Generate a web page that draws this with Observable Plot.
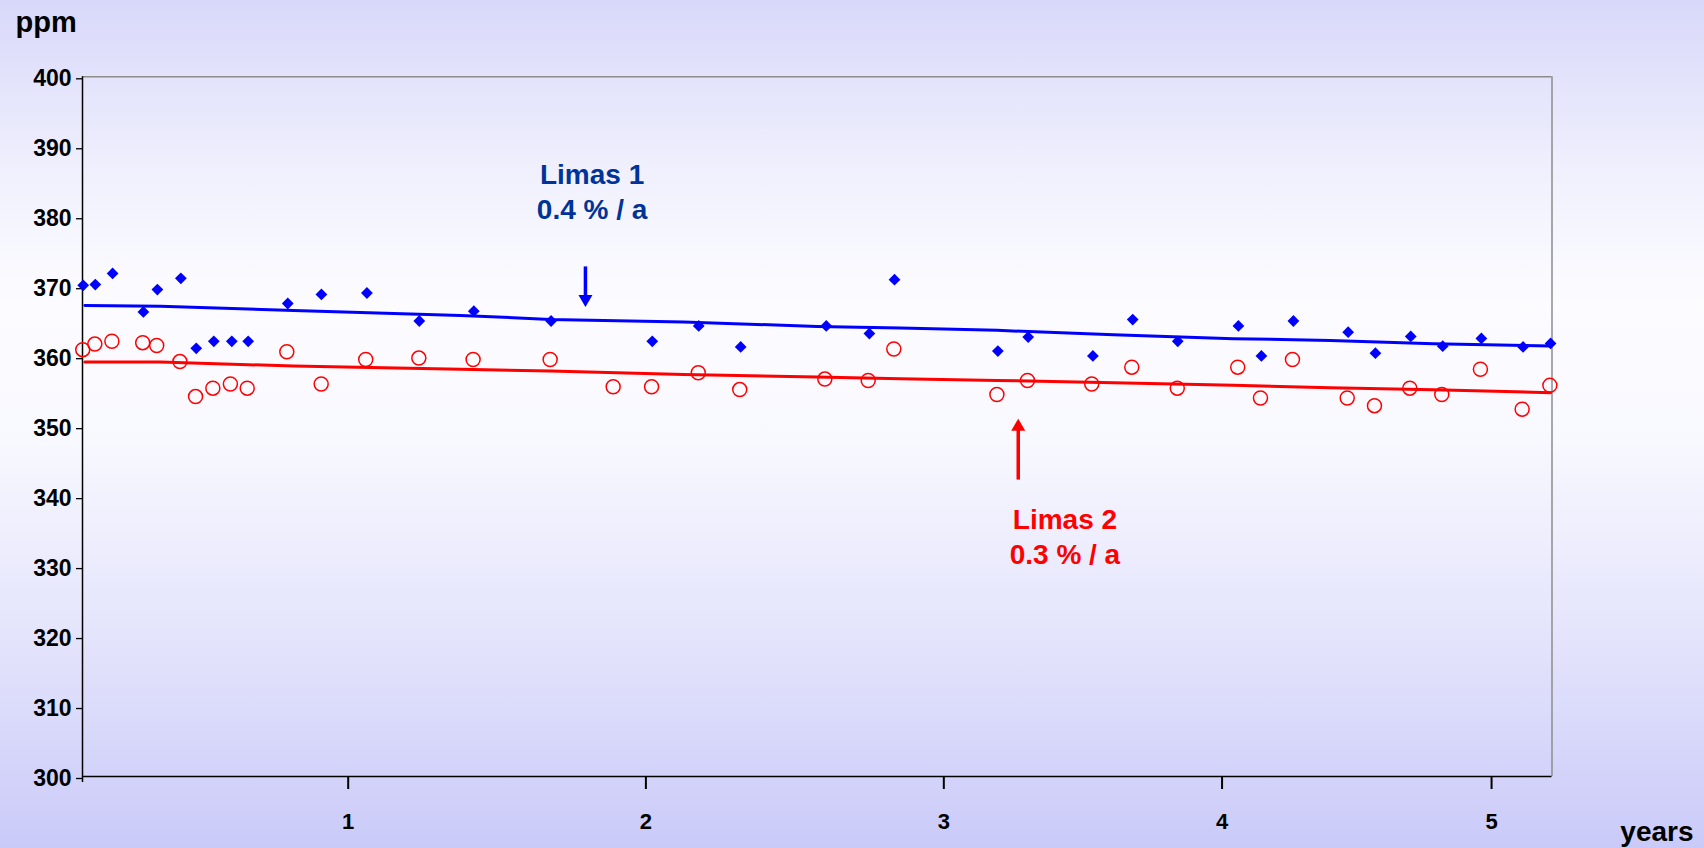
<!DOCTYPE html>
<html>
<head>
<meta charset="utf-8">
<script src="https://cdn.jsdelivr.net/npm/d3@7"></script>
<script src="https://cdn.jsdelivr.net/npm/@observablehq/plot@0.6"></script>
<style>
html, body { margin: 0; padding: 0; }
body {
  width: 1704px; height: 848px; overflow: hidden;
  background: linear-gradient(to bottom, #d8d8fa 0%, #f2f2fe 22%, #fcfcff 36%, #f8f8ff 52%, #e3e3fc 76%, #cacaf9 100%);
  font-family: "Liberation Sans", Arial, Helvetica, sans-serif;
}
#chart svg { display: block; }
</style>
</head>
<body>
<div id="chart"></div>
<script>
// ---- data (x in months since start, y in ppm) ----
const limas1Month = [0.03, 0.54, 1.27, 2.57, 3.16, 4.15, 4.80, 5.54, 6.30, 6.99, 8.66, 10.08, 12.0, 14.21,
  16.51, 19.77, 24.04, 26.0, 27.77, 31.38, 33.2, 34.26, 38.62, 39.9, 42.63, 44.31, 46.21, 48.77, 49.74,
  51.09, 53.40, 54.55, 56.04, 57.39, 59.02, 60.78, 61.94];
const limas1Ppm = [370.2, 370.3, 371.9, 366.4, 369.6, 371.2, 361.2, 362.2, 362.2, 362.2, 367.6, 368.9, 369.1, 365.1,
  366.5, 365.1, 362.2, 364.4, 361.4, 364.4, 363.3, 371.0, 360.8, 362.8, 360.1, 365.3, 362.2, 364.4, 360.1,
  365.1, 363.5, 360.5, 362.9, 361.5, 362.6, 361.4, 361.9];

const limas2Month = [0.01, 0.52, 1.24, 2.54, 3.13, 4.11, 4.77, 5.50, 6.24, 6.95, 8.62, 10.07, 11.95, 14.19,
  16.48, 19.73, 22.39, 24.01, 25.98, 27.73, 31.32, 33.15, 34.23, 38.58, 39.87, 42.58, 44.27, 46.19, 48.74,
  49.70, 51.05, 53.36, 54.51, 56.0, 57.35, 58.98, 60.74, 61.91];
const limas2Ppm = [361.0, 361.8, 362.2, 362.0, 361.6, 359.3, 354.3, 355.5, 356.1, 355.5, 360.7, 356.1, 359.6, 359.8,
  359.6, 359.6, 355.7, 355.7, 357.7, 355.3, 356.8, 356.6, 361.1, 354.6, 356.6, 356.1, 358.5, 355.5, 358.5,
  354.1, 359.6, 354.1, 353.0, 355.5, 354.6, 358.2, 352.5, 355.9];

const trendMonth = [0.1, 3.29, 8.91, 15.95, 19.74, 25.36, 31.0, 34.51, 38.59, 43.5, 48.56, 52.65, 57.0, 61.94];
const trend1Ppm = [367.33, 367.19, 366.61, 365.9, 365.33, 364.94, 364.33, 364.09, 363.76, 363.14, 362.57, 362.33, 361.86, 361.51];
const trend2Ppm = [359.23, 359.23, 358.66, 358.19, 357.94, 357.47, 357.09, 356.86, 356.61, 356.29, 355.9, 355.57, 355.29, 354.86];

const yTicks = [300, 310, 320, 330, 340, 350, 360, 370, 380, 390, 400];
const yearTickMonths = [11.21, 23.77, 36.34, 48.08, 59.45];
const yearTickLabels = ["1", "2", "3", "4", "5"];

const series1Label = ["Limas 1", "0.4 % / a"];
const series2Label = ["Limas 2", "0.3 % / a"];

// ---- tables built from the arrays ----
const pts1 = limas1Month.map((m, i) => ({month: m, ppm: limas1Ppm[i]}));
const pts2 = limas2Month.map((m, i) => ({month: m, ppm: limas2Ppm[i]}));
const trend1 = trendMonth.map((m, i) => ({month: m, ppm: trend1Ppm[i]}));
const trend2 = trendMonth.map((m, i) => ({month: m, ppm: trend2Ppm[i]}));

const BLUE = "#0000ff", RED = "#ff0000", NAVY = "#003399";
const FONT = "'Liberation Sans', Arial, Helvetica, sans-serif";

// downward-pointing filled triangle
const triangleDown = {
  draw(ctx, size) {
    const s = Math.sqrt(size) * 0.6824, t = s / 2, u = s * Math.sqrt(3) / 2;
    ctx.moveTo(0, s); ctx.lineTo(u, -t); ctx.lineTo(-u, -t); ctx.closePath();
  }
};

const one = [0];

const chart = Plot.plot({
  width: 1704,
  height: 848,
  marginLeft: 82,
  marginRight: 152.5,
  marginTop: 76.3,
  marginBottom: 72,
  style: {background: "transparent", fontFamily: FONT, overflow: "visible", color: "#000"},
  x: {domain: [0, 62]},
  y: {domain: [300, 400]},
  marks: [
    // frame
    Plot.ruleY([400], {stroke: "#8c8c8c", strokeWidth: 1.5}),
    Plot.ruleX([62], {stroke: "#8c8c8c", strokeWidth: 1.5}),
    Plot.ruleX([0], {stroke: "#000", strokeWidth: 1.5}),
    Plot.ruleY([300], {stroke: "#000", strokeWidth: 1.5}),
    // axes
    Plot.axisY(yTicks, {
      tickSize: 6, tickPadding: 5, fontSize: 23, fontWeight: "bold", dy: 2,
      stroke: "#000", strokeWidth: 1.3, fill: "#000", label: null, tickFormat: d => String(d)
    }),
    Plot.axisX(yearTickMonths, {
      tickSize: 13, tickPadding: 24, fontSize: 22, fontWeight: "bold",
      stroke: "#000", strokeWidth: 2, fill: "#000", label: null,
      tickFormat: (d, i) => yearTickLabels[yearTickMonths.indexOf(d)]
    }),
    Plot.axisX([0], {tickSize: 6, stroke: "#000", strokeWidth: 1.5, tickFormat: () => "", label: null}),
    // axis titles
    Plot.text(["ppm"], {frameAnchor: "top-left", textAnchor: "start", lineAnchor: "middle",
      dx: -67, dy: -54, fontSize: 29, fontWeight: "bold", fill: "#000"}),
    Plot.text(["years"], {frameAnchor: "bottom-right", textAnchor: "end", lineAnchor: "middle",
      dx: 141.5, dy: 56, fontSize: 28, fontWeight: "bold", fill: "#000"}),
    // trend lines
    Plot.line(trend1, {x: "month", y: "ppm", stroke: BLUE, strokeWidth: 3}),
    Plot.line(trend2, {x: "month", y: "ppm", stroke: RED, strokeWidth: 3}),
    // measurements
    Plot.dot(pts1, {x: "month", y: "ppm", symbol: "diamond2", r: 5.3, fill: BLUE, stroke: "none"}),
    Plot.dot(pts2, {x: "month", y: "ppm", symbol: "circle", r: 7, fill: "none", stroke: RED, strokeWidth: 1.5}),
    // annotation Limas 1
    Plot.text(one, {x: 21.5, y: 385.94, text: () => series1Label[0], fontSize: 28, fontWeight: "bold", fill: NAVY, lineAnchor: "middle"}),
    Plot.text(one, {x: 21.5, y: 380.94, text: () => series1Label[1], fontSize: 28, fontWeight: "bold", fill: NAVY, lineAnchor: "middle"}),
    Plot.link(one, {x1: 21.22, y1: 372.9, x2: 21.22, y2: 368.6, stroke: BLUE, strokeWidth: 3.5}),
    Plot.dot(one, {x: 21.22, y: 367.09, dy: -8.1, symbol: triangleDown, r: 6.7, fill: BLUE, stroke: "none"}),
    // annotation Limas 2
    Plot.text(one, {x: 41.45, y: 336.66, text: () => series2Label[0], fontSize: 28, fontWeight: "bold", fill: RED, lineAnchor: "middle"}),
    Plot.text(one, {x: 41.45, y: 331.66, text: () => series2Label[1], fontSize: 28, fontWeight: "bold", fill: RED, lineAnchor: "middle"}),
    Plot.link(one, {x1: 39.48, y1: 342.43, x2: 39.48, y2: 349.6, stroke: RED, strokeWidth: 3.5}),
    Plot.dot(one, {x: 39.48, y: 351.14, dy: 8.1, symbol: "triangle2", r: 6.7, fill: RED, stroke: "none"})
  ]
});

document.getElementById("chart").appendChild(chart);
</script>
</body>
</html>
